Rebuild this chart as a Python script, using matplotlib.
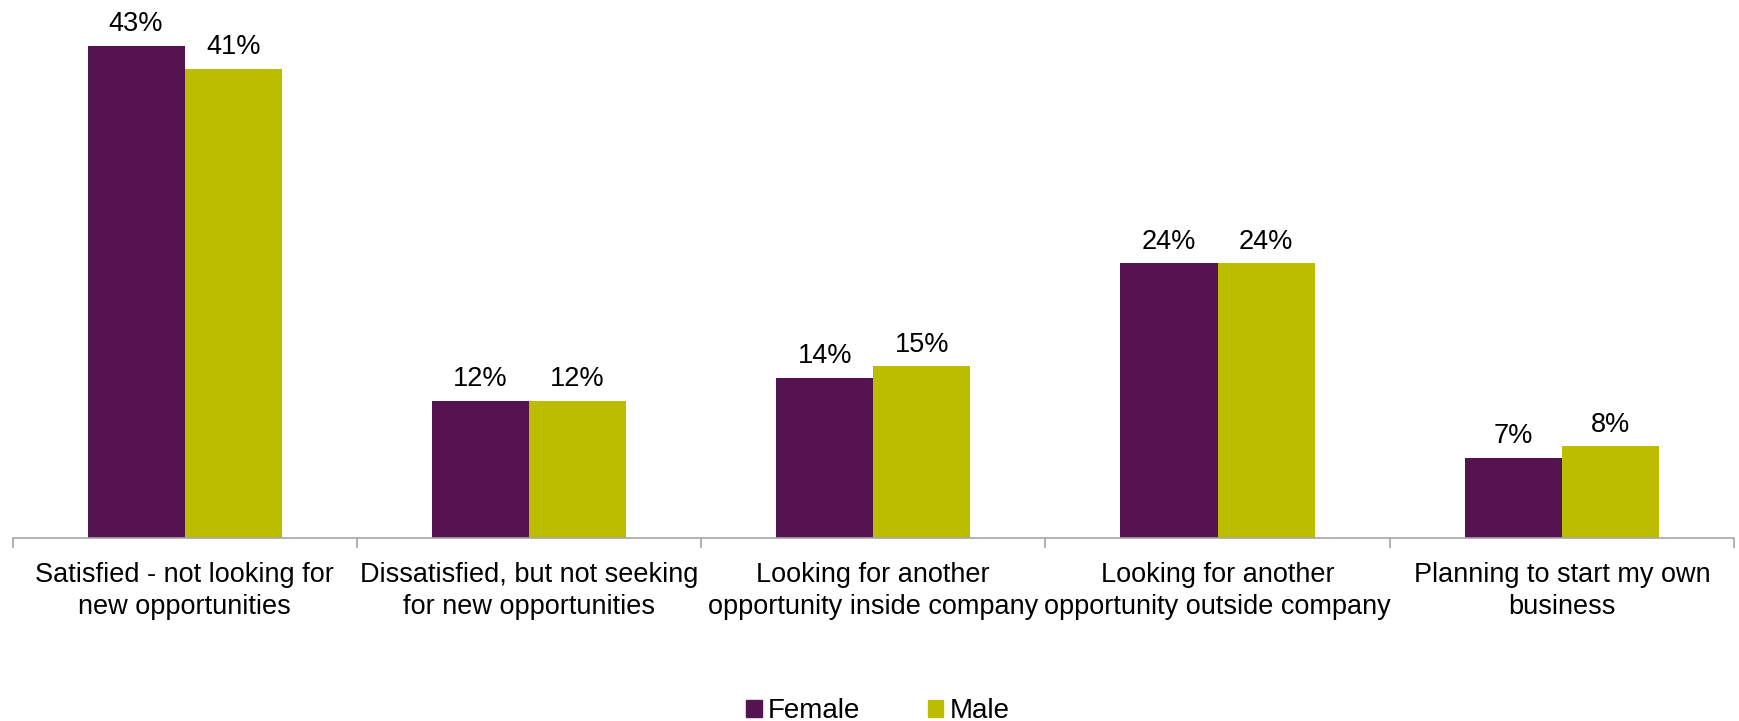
import numpy as np
import matplotlib.pyplot as plt
from matplotlib.patches import Patch

plt.rcParams['font.family'] = ['Liberation Sans', 'DejaVu Sans']

categories = ['Satisfied - not looking for\nnew opportunities',
              'Dissatisfied, but not seeking\nfor new opportunities',
              'Looking for another\nopportunity inside company',
              'Looking for another\nopportunity outside company',
              'Planning to start my own\nbusiness']
female = [43, 12, 14, 24, 7]
male = [41, 12, 15, 24, 8]

c_female = '#55134F'
c_male = '#BDBD00'

fig = plt.figure(figsize=(17.39, 7.21), dpi=100)
ax = fig.add_axes([12.5 / 1739, 1 - 538 / 721, (1734 - 12.5) / 1739, 538 / 721])

x = np.arange(len(categories))
w = 0.282
bf = ax.bar(x - w / 2, female, w, color=c_female)
bm = ax.bar(x + w / 2, male, w, color=c_male)

for bars, vals in ((bf, female), (bm, male)):
    for b, v in zip(bars, vals):
        ax.text(b.get_x() + b.get_width() / 2, v + 0.75, f'{v}%',
                ha='center', va='bottom', fontsize=19.5)

ax.set_xlim(-0.5, len(categories) - 0.5)
ax.set_ylim(0, 47)

# axis line with boundary ticks between categories
for s in ('top', 'right', 'left'):
    ax.spines[s].set_visible(False)
ax.spines['bottom'].set_color('#A6A6A6')
ax.spines['bottom'].set_linewidth(1.2)
ax.set_yticks([])
ax.set_xticks(x)
ax.set_xticklabels(categories, fontsize=19.5, linespacing=1.3)
ax.tick_params(axis='x', which='major', length=0, pad=17.5)
ax.set_xticks(np.arange(-0.5, len(categories)), minor=True)
ax.tick_params(axis='x', which='minor', length=7.5, width=1.2,
               color='#A6A6A6', direction='out')

handles = [Patch(color=c_female, label='Female'), Patch(color=c_male, label='Male')]
fig.legend(handles=handles, loc='center', bbox_to_anchor=(878 / 1739, 1 - 711 / 721),
           ncol=2, frameon=False, fontsize=20, handlelength=0.55, handleheight=0.55,
           handletextpad=0.22, columnspacing=2.45)

fig.savefig('out.png', dpi=100)
